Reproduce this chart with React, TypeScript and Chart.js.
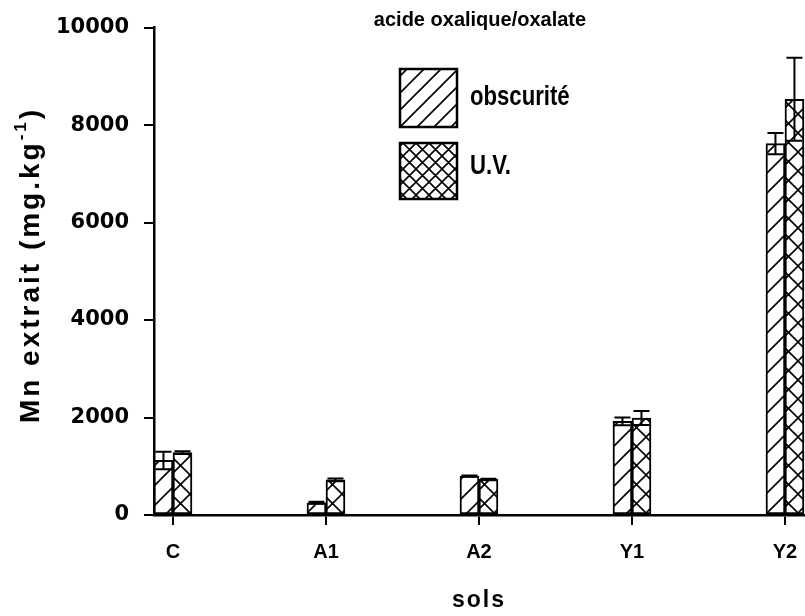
import React, { useEffect, useRef } from "react";
import { Chart, registerables } from "chart.js";

Chart.register(...registerables);

const categories = ["C", "A1", "A2", "Y1", "Y2"];
const obscurite = [1120, 250, 800, 1920, 7620];
const obscuriteErr = [180, 20, 10, 80, 220];
const uv = [1280, 720, 730, 1990, 8530];
const uvErr = [30, 30, 15, 145, 850];
const yTicks = [0, 2000, 4000, 6000, 8000, 10000];
const seriesLabels = ["obscurité", "U.V."];
const chartTitle = "acide oxalique/oxalate";
const xTitle = "sols";
const yTitleMain = "Mn extrait (mg.kg";
const yTitleSup = "-1";
const yTitleEnd = ")";

const FONT = "'Liberation Sans', Arial, Helvetica, sans-serif";
const TICKFONT = "'DejaVu Sans', Verdana, sans-serif";

function makeHatch(size: number, cross: boolean): CanvasPattern | string {
  const c = document.createElement("canvas");
  c.width = size;
  c.height = size;
  const g = c.getContext("2d");
  if (!g) return "#fff";
  g.fillStyle = "#fff";
  g.fillRect(0, 0, size, size);
  g.strokeStyle = "#000";
  g.lineWidth = 1.6;
  g.beginPath();
  g.moveTo(-2, size + 2);
  g.lineTo(size + 2, -2);
  g.moveTo(-2, 2);
  g.lineTo(2, -2);
  g.moveTo(size - 2, size + 2);
  g.lineTo(size + 2, size - 2);
  if (cross) {
    g.moveTo(-2, -2);
    g.lineTo(size + 2, size + 2);
    g.moveTo(size - 2, -2);
    g.lineTo(size + 2, 2);
    g.moveTo(-2, size - 2);
    g.lineTo(2, size + 2);
  }
  g.stroke();
  const p = g.createPattern(c, "repeat");
  return p || "#fff";
}

export default function App() {
  const ref = useRef<HTMLCanvasElement | null>(null);

  useEffect(() => {
    document.body.style.margin = "0";
    const canvas = ref.current;
    if (!canvas) return;
    const hatch = makeHatch(20, false);
    const cross = makeHatch(19, true);
    const legHatch = makeHatch(17, false);
    const legCross = makeHatch(13, true);
    const errs = [obscuriteErr, uvErr];

    const extras = {
      id: "extras",
      afterDatasetsDraw(chart: any) {
        const ctx = chart.ctx;
        const yScale = chart.scales.y;
        ctx.save();
        ctx.strokeStyle = "#000";
        ctx.lineWidth = 2;
        chart.data.datasets.forEach((ds: any, i: number) => {
          const meta = chart.getDatasetMeta(i);
          meta.data.forEach((bar: any, j: number) => {
            const v = ds.data[j].y;
            const e = errs[i][j];
            const x = bar.x;
            const yt = yScale.getPixelForValue(v + e);
            const yb = yScale.getPixelForValue(v - e);
            const cap = 8;
            ctx.beginPath();
            ctx.moveTo(x, yt);
            ctx.lineTo(x, yb);
            ctx.moveTo(x - cap, yt);
            ctx.lineTo(x + cap, yt);
            ctx.moveTo(x - cap, yb);
            ctx.lineTo(x + cap, yb);
            ctx.stroke();
          });
        });
        ctx.restore();
      },
      afterDraw(chart: any) {
        const ctx = chart.ctx;
        ctx.save();
        ctx.fillStyle = "#000";
        // title
        ctx.font = `bold 20px ${FONT}`;
        ctx.textAlign = "center";
        ctx.textBaseline = "alphabetic";
        ctx.fillText(chartTitle, 480, 26);
        // legend
        const fills = [legHatch, legCross];
        const boxes = [
          [400, 69, 57, 58],
          [400, 143, 57, 56],
        ];
        const baselines = [105, 174];
        ctx.font = `bold 27px ${FONT}`;
        ctx.textAlign = "left";
        chart.data.datasets.forEach((ds: any, i: number) => {
          const [bx, by, bw, bh] = boxes[i];
          ctx.fillStyle = fills[i];
          ctx.fillRect(bx, by, bw, bh);
          ctx.strokeStyle = "#000";
          ctx.lineWidth = 2.5;
          ctx.strokeRect(bx, by, bw, bh);
          ctx.fillStyle = "#000";
          ctx.save();
          ctx.translate(470, baselines[i]);
          ctx.scale(0.82, 1);
          ctx.fillText(ds.label, 0, 0);
          ctx.restore();
        });
        // x title
        ctx.font = `bold 23px ${FONT}`;
        try { (ctx as any).letterSpacing = "2px"; } catch (e) {}
        const xw = ctx.measureText(xTitle).width;
        ctx.textAlign = "left";
        ctx.fillText(xTitle, 479 - xw / 2, 607);
        // y title
        try { (ctx as any).letterSpacing = "3px"; } catch (e) {}
        ctx.translate(31, 265);
        ctx.rotate(-Math.PI / 2);
        const big = `bold 28px ${FONT}`;
        const small = `bold 17px ${FONT}`;
        ctx.font = big;
        const w1 = ctx.measureText(yTitleMain).width;
        const w3 = ctx.measureText(yTitleEnd).width;
        ctx.font = small;
        const w2 = ctx.measureText(yTitleSup).width;
        const total = w1 + w2 + w3;
        let x = -total / 2;
        ctx.textAlign = "left";
        ctx.textBaseline = "middle";
        ctx.font = big;
        ctx.fillText(yTitleMain, x, 0);
        x += w1;
        ctx.font = small;
        ctx.fillText(yTitleSup, x, -10);
        x += w2;
        ctx.font = big;
        ctx.fillText(yTitleEnd, x, 0);
        try { (ctx as any).letterSpacing = "0px"; } catch (e) {}
        ctx.restore();
      },
    };

    const chart = new Chart(canvas, {
      type: "bar",
      data: {
        datasets: [
          {
            label: seriesLabels[0],
            data: obscurite.map((v, i) => ({ x: i, y: v })),
            backgroundColor: hatch as any,
            borderColor: "#000",
            borderWidth: 2,
            borderSkipped: false,
            barThickness: 19,
          },
          {
            label: seriesLabels[1],
            data: uv.map((v, i) => ({ x: i, y: v })),
            backgroundColor: cross as any,
            borderColor: "#000",
            borderWidth: 2,
            borderSkipped: false,
            barThickness: 19,
          },
        ],
      },
      options: {
        responsive: false,
        animation: false,
        layout: { padding: { left: 0, right: 0, top: 25, bottom: 0 } },
        plugins: {
          legend: { display: false },
          tooltip: { enabled: false },
          title: { display: false },
        },
        scales: {
          x: {
            type: "linear",
            offset: false,
            min: -0.124,
            max: 4.131,
            afterBuildTicks: (s: any) => {
              s.ticks = categories.map((_, i) => ({ value: i }));
            },
            afterFit: (s: any) => {
              s.height = 101;
              s.paddingLeft = 0;
              s.paddingRight = 0;
            },
            ticks: {
              autoSkip: false,
              maxRotation: 0,
              padding: 15,
              color: "#000",
              font: { family: FONT, size: 20, weight: "bold" },
              callback: (v: any) => categories[v as number] ?? "",
            },
            grid: {
              display: true,
              offset: false,
              drawOnChartArea: false,
              drawTicks: true,
              tickLength: 10,
              color: "#000",
              lineWidth: 2,
            },
            border: { display: true, color: "#000", width: 2.5 },
          },
          y: {
            type: "linear",
            min: 0,
            max: 10000,
            afterBuildTicks: (s: any) => {
              s.ticks = yTicks.map((v) => ({ value: v }));
            },
            afterFit: (s: any) => {
              s.width = 154;
            },
            ticks: {
              padding: 15,
              color: "#000",
              font: { family: TICKFONT, size: 21, weight: "bold" },
              callback: (v: any) => String(v),
            },
            grid: {
              display: true,
              drawOnChartArea: false,
              drawTicks: true,
              tickLength: 10,
              color: "#000",
              lineWidth: 2,
            },
            border: { display: true, color: "#000", width: 2.5 },
          },
        },
      },
      plugins: [extras],
    } as any);

    return () => chart.destroy();
  }, []);

  return (
    <div style={{ width: 805, height: 616 }}>
      <canvas ref={ref} width={805} height={616} style={{ display: "block" }} />
    </div>
  );
}
